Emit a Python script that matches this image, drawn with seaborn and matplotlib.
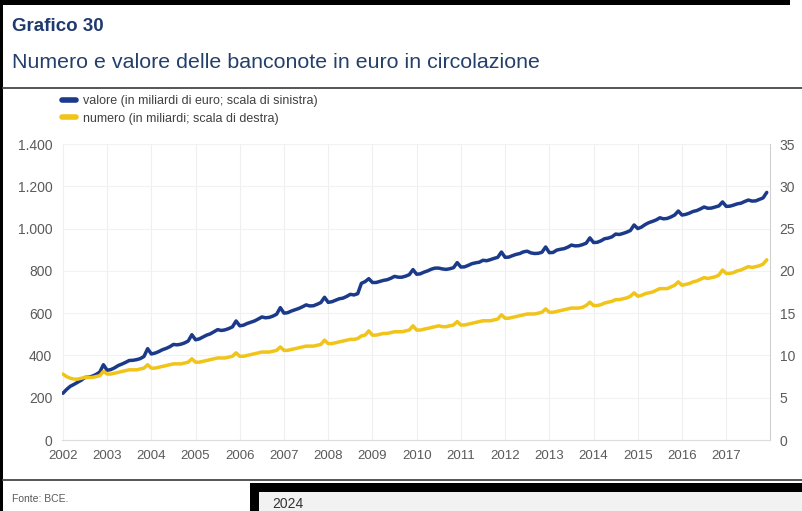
import numpy as np
import pandas as pd
import matplotlib.pyplot as plt
import seaborn as sns
from matplotlib.lines import Line2D
from matplotlib.patches import Rectangle

# monthly data, Jan 2002 - Dec 2017
anni = list(range(2002, 2018))

# valore (miliardi di euro), one row per year
valore = [
    221, 239, 254, 263, 273, 283, 296, 297, 302, 310, 321, 356,
    330, 333, 341, 352, 359, 367, 376, 377, 380, 385, 395, 432,
    407, 411, 418, 427, 433, 441, 452, 450, 453, 459, 468, 498,
    474, 478, 487, 496, 502, 512, 522, 518, 521, 527, 535, 563,
    540, 543, 551, 557, 563, 572, 582, 578, 580, 586, 595, 626,
    600, 602, 610, 616, 622, 630, 639, 634, 635, 642, 650, 675,
    651, 654, 661, 668, 671, 679, 689, 686, 692, 741, 749, 763,
    745, 745, 750, 755, 758, 765, 774, 770, 770, 775, 782, 806,
    784, 786, 794, 800, 808, 813, 813, 809, 807, 810, 815, 839,
    818, 819, 826, 834, 838, 841, 850, 848, 853, 859, 864, 889,
    864, 865, 872, 878, 882, 890, 893, 885, 882, 883, 888, 913,
    886, 887, 898, 902, 905, 912, 922, 918, 919, 924, 931, 956,
    934, 935, 942, 952, 955, 961, 974, 972, 977, 983, 991, 1017,
    1000, 1007, 1019, 1028, 1034, 1041, 1051, 1046, 1048, 1055, 1064, 1083,
    1064, 1067, 1073, 1081, 1085, 1093, 1102, 1096, 1097, 1102, 1107, 1126,
    1105, 1106, 1111, 1117, 1120, 1128, 1135, 1130, 1131, 1138, 1145, 1171,
]

# numero (miliardi di banconote)
numero = [
    7.8, 7.5, 7.3, 7.2, 7.2, 7.3, 7.4, 7.4, 7.4, 7.5, 7.6, 8.1,
    7.8, 7.8, 7.9, 8.0, 8.1, 8.2, 8.3, 8.3, 8.3, 8.4, 8.5, 8.9,
    8.5, 8.5, 8.6, 8.7, 8.8, 8.9, 9.0, 9.0, 9.0, 9.1, 9.2, 9.6,
    9.2, 9.2, 9.3, 9.4, 9.5, 9.6, 9.7, 9.7, 9.7, 9.8, 9.9, 10.3,
    9.9, 9.9, 10.0, 10.1, 10.2, 10.3, 10.4, 10.4, 10.4, 10.5, 10.6, 11.0,
    10.6, 10.6, 10.7, 10.8, 10.9, 11.0, 11.1, 11.1, 11.1, 11.2, 11.3, 11.8,
    11.4, 11.4, 11.5, 11.6, 11.7, 11.8, 11.9, 11.9, 12.0, 12.3, 12.4, 12.9,
    12.4, 12.4, 12.5, 12.6, 12.6, 12.7, 12.8, 12.8, 12.8, 12.9, 13.0, 13.5,
    13.0, 13.0, 13.1, 13.2, 13.3, 13.4, 13.5, 13.4, 13.4, 13.5, 13.6, 14.0,
    13.6, 13.6, 13.7, 13.8, 13.9, 14.0, 14.1, 14.1, 14.1, 14.2, 14.3, 14.8,
    14.4, 14.4, 14.5, 14.6, 14.7, 14.8, 14.9, 14.9, 14.9, 15.0, 15.1, 15.5,
    15.1, 15.1, 15.2, 15.3, 15.4, 15.5, 15.6, 15.6, 15.6, 15.7, 15.9, 16.3,
    15.9, 15.9, 16.0, 16.2, 16.3, 16.4, 16.6, 16.6, 16.7, 16.8, 17.0, 17.4,
    17.0, 17.1, 17.3, 17.4, 17.5, 17.7, 17.9, 17.9, 17.9, 18.1, 18.3, 18.7,
    18.3, 18.4, 18.5, 18.7, 18.8, 19.0, 19.2, 19.1, 19.2, 19.3, 19.5, 20.1,
    19.7, 19.7, 19.8, 20.0, 20.1, 20.3, 20.5, 20.4, 20.5, 20.6, 20.8, 21.3,
]

left_ticks = [0, 200, 400, 600, 800, 1000, 1200, 1400]
right_ticks = [0, 5, 10, 15, 20, 25, 30, 35]

label_valore = "valore (in miliardi di euro; scala di sinistra)"
label_numero = "numero (in miliardi; scala di destra)"

BLUE = "#1b3a8a"
YELLOW = "#f0c419"
GREY = "#5a5a5a"

df = pd.DataFrame({
    "anno": [a + m / 12 for a in anni for m in range(12)],
    "valore": valore,
    "numero": numero,
})

sns.set_style("white")
plt.rcParams["font.family"] = ["Liberation Sans", "DejaVu Sans"]

W, H = 802, 511
fig = plt.figure(figsize=(W / 100, H / 100), dpi=100)
ax = fig.add_axes([62 / W, 1 - 440 / H, (770 - 62) / W, (440 - 144) / H])

sns.lineplot(data=df, x="anno", y="valore", ax=ax, color=BLUE, linewidth=2.5, legend=False)
ax2 = ax.twinx()
sns.lineplot(data=df, x="anno", y="numero", ax=ax2, color=YELLOW, linewidth=2.5, legend=False)

ax.set_xlim(2001.98, 2017.99)
ax.set_ylim(0, 1400)
ax2.set_ylim(0, 35)
ax.set_xticks(anni)
ax.set_xticklabels([str(a) for a in anni])
ax.set_yticks(left_ticks)
ax.set_yticklabels([f"{v:,}".replace(",", ".") for v in left_ticks])
ax2.set_yticks(right_ticks)
ax.set_xlabel("")
ax.set_ylabel("")
ax2.set_ylabel("")

for a in anni:
    ax.axvline(a, color="#efefef", linewidth=0.8, zorder=0)
for v in left_ticks[1:]:
    ax.axhline(v, color="#f2f2f2", linewidth=0.8, zorder=0)

ax.tick_params(axis="x", length=0, pad=7, labelsize=9.5, labelcolor=GREY)
ax.tick_params(axis="y", length=0, pad=7, labelsize=10, labelcolor=GREY)
ax2.tick_params(axis="y", length=0, pad=7, labelsize=10, labelcolor=GREY)

for a_ in (ax, ax2):
    for s in ("top", "left"):
        a_.spines[s].set_visible(False)
    a_.spines["bottom"].set_color("#dddddd")
    a_.spines["right"].set_color("#d0d0d0")
ax.spines["right"].set_visible(False)

# legend
h1 = Line2D([], [], color=BLUE, linewidth=4)
h2 = Line2D([], [], color=YELLOW, linewidth=4)
fig.legend([h1, h2], [label_valore, label_numero], loc="upper left",
           bbox_to_anchor=(62 / W, 1 - 95 / H), frameon=False, fontsize=9.0,
           handlelength=1.15, handletextpad=0.55, labelspacing=0.45,
           borderpad=0, borderaxespad=0, labelcolor="#404040")

# titles
fig.text(12 / W, 1 - 31 / H, "Grafico 30", fontsize=13.5, fontweight="bold", color="#1f3a6e", va="baseline")
fig.text(12 / W, 1 - 68 / H, "Numero e valore delle banconote in euro in circolazione",
         fontsize=15.4, color="#24406a", va="baseline")

# separators and frame
fig.add_artist(Line2D([3 / W, 1], [1 - 88 / H] * 2, color="#555555", linewidth=1.4))
fig.add_artist(Line2D([3 / W, 1], [1 - 480 / H] * 2, color="#555555", linewidth=1.4))
fig.add_artist(Rectangle((0, 0), 3 / W, 1, color="black", linewidth=0))
fig.add_artist(Rectangle((0, 1 - 5 / H), 790 / W, 5 / H, color="black", linewidth=0))
fig.text(12 / W, 1 - 502 / H, "Fonte: BCE.", fontsize=7.5, color=GREY, va="baseline")

# overlapping screenshot at the bottom right
fig.add_artist(Rectangle((250 / W, 0), 1, (511 - 483) / H, color="black", linewidth=0))
fig.add_artist(Rectangle((259 / W, 0), 1, (511 - 492) / H, color="#f2f2f2", linewidth=0))
fig.text(272 / W, 1 - 508 / H, "2024", fontsize=10, color="#333333", va="baseline")

fig.savefig("out.png", dpi=100)
